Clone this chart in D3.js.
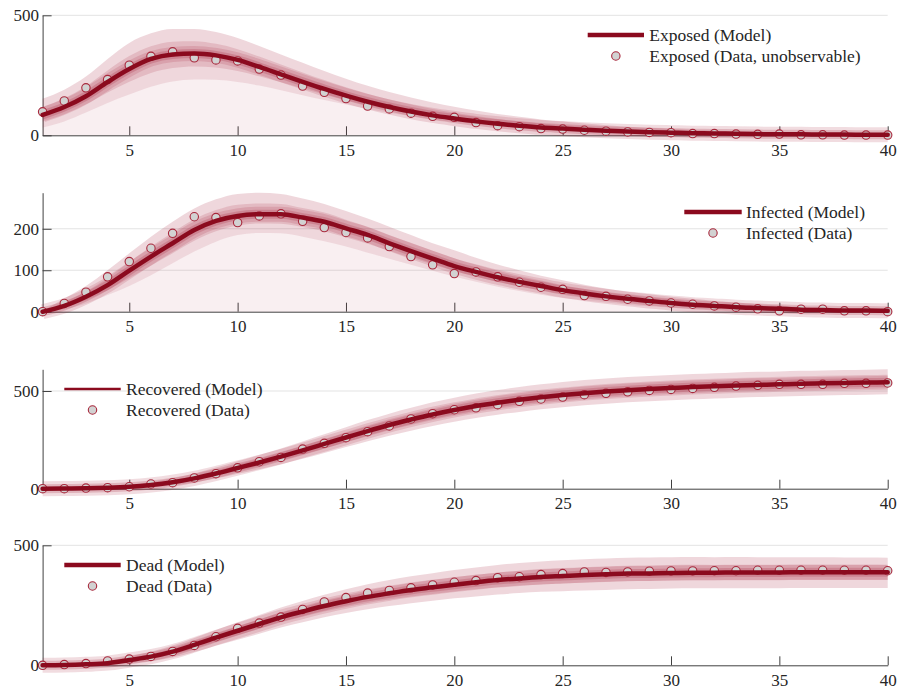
<!DOCTYPE html>
<html><head><meta charset="utf-8">
<script src="https://cdn.jsdelivr.net/npm/d3@7"></script>
<style>
body{margin:0;background:#fff}
svg{display:block}
text{font-family:"Liberation Serif","Times New Roman",serif}
</style>
</head><body>
<svg id="c" width="906" height="690"></svg>
<script>
// ---------- data ----------
const days = [1,2,3,4,5,6,7,8,9,10,11,12,13,14,15,16,17,18,19,20,21,22,23,24,25,26,27,28,29,30,31,32,33,34,35,36,37,38,39,40];
const xTicks = [5,10,15,20,25,30,35,40];

const yTicksExposed = [0,500];
const yTicksInfected = [0,100,200];
const yTicksRecovered = [0,500];
const yTicksDead = [0,500];

const legendExposed = ["Exposed (Model)","Exposed (Data, unobservable)"];
const legendInfected = ["Infected (Model)","Infected (Data)"];
const legendRecovered = ["Recovered (Model)","Recovered (Data)"];
const legendDead = ["Dead (Model)","Dead (Data)"];

const exposedData  = [98,143,198,232,292,329,348,323,314,310,276,251,205,179,153,122,110,92,79,75,53,40,36,28,26,21,17,14,12,11,7,7,5,4,5,2,2,1,1,1];
const exposedModel = [85,118,163,222,276,318,337,341,333,314,285,254,223,193,165,140,118,99,83,70,58,48,40,33,28,23,19,16,13,11,9,8,6,5,4,4,3,3,2,2];
const exposedOuterHi = [152,190,245,318,385,425,443,443,430,405,372,337,302,268,236,206,180,157,137,119,103,89,77,66,57,49,42,36,31,26,22,19,16,14,12,10,9,8,7,6];
const exposedOuterLo = [32,58,95,135,170,202,224,233,231,222,207,188,167,147,128,110,94,80,67,56,47,39,32,27,22,18,15,12,10,8,6,5,4,3,3,2,2,1,1,1];
const exposedInnerHi = [118,154,204,270,330,371,390,392,381,359,328,295,262,230,200,173,149,128,110,94,80,68,58,49,42,36,30,26,22,18,15,13,11,9,8,7,6,5,4,4];
const exposedInnerLo = [58,88,129,178,223,260,280,287,282,268,246,221,195,170,146,125,106,89,75,63,52,43,36,30,25,20,17,14,11,9,7,6,5,4,3,3,2,2,1,1];

const infectedData  = [0,20,47,84,121,153,189,229,227,215,231,236,218,203,191,178,157,133,113,92,96,84,71,59,54,39,37,30,26,21,18,14,11,7,2,6,6,2,2,0];
const infectedModel = [0,14,36,64,99,133,165,197,219,231,235,235,227,217,201,185,165,146,128,110,96,83,72,62,52,44,37,31,26,21,17,14,11,9,7,5,4,3,3,2];
const infectedOuterHi = [2,32,62,100,141,181,217,249,271,284,287,284,273,260,243,225,205,185,165,148,130,114,100,87,76,65,56,48,42,36,31,26,22,18,15,12,10,8,6,5];
const infectedOuterLo = [0,6,20,40,62,88,117,145,169,185,190,189,181,170,157,142,128,113,99,85,72,60,50,41,33,27,22,17,13,10,8,6,5,4,3,2,2,1,1,1];
const infectedInnerHi = [1,23,49,82,120,157,191,223,245,258,261,260,250,239,222,205,185,166,147,129,113,99,86,75,64,55,47,40,34,29,24,20,17,14,11,9,7,6,5,4];
const infectedInnerLo = [0,10,28,52,81,111,141,171,194,208,213,212,204,194,179,164,147,130,114,98,84,72,61,52,43,36,30,24,20,16,13,10,8,7,5,4,3,2,2,2];

const recoveredData  = [0,0,3,5,10,24,31,55,77,107,138,160,203,232,261,292,321,357,384,404,414,430,447,459,469,481,488,496,503,508,513,519,525,529,534,534,534,539,539,541];
const recoveredModel = [0,1,2,5,10,19,33,53,78,106,134,164,196,229,262,295,326,354,380,403,423,440,455,468,479,489,497,504,510,515,520,524,528,531,534,537,539,541,543,545];
const recoveredOuterHi = [1,3,6,12,21,34,53,78,108,140,172,206,242,279,315,351,384,414,442,466,487,505,521,534,546,556,564,571,577,582,587,591,595,598,600,603,605,607,609,611];
const recoveredOuterLo = [0,0,0,1,3,8,17,32,52,76,99,125,153,183,213,243,271,297,321,343,362,379,393,406,417,427,435,442,448,453,458,462,466,469,472,475,477,479,481,483];
const recoveredInnerHi = [1,2,4,9,16,27,43,66,93,123,153,185,219,254,289,323,355,384,411,435,455,473,488,501,513,523,531,538,544,549,554,558,562,565,567,570,572,574,576,578];
const recoveredInnerLo = [0,1,1,3,7,14,25,43,65,91,117,145,175,206,238,269,299,326,351,373,393,410,424,437,448,458,466,473,479,484,489,493,497,500,503,506,508,510,512,514];

const deadData  = [0,3,7,18,26,37,58,83,119,154,176,201,233,264,282,301,312,323,335,346,353,365,369,378,382,389,387,389,392,393,393,394,394,396,396,396,396,396,396,394];
const deadModel = [0,1,4,9,22,36,57,85,115,144,172,200,224,247,267,285,300,314,325,336,346,355,362,368,372,376,379,382,383,385,386,386,387,387,387,388,388,388,388,388];
const deadOuterHi = [0,2,7,17,37,56,82,114,147,179,210,241,268,294,317,338,355,371,384,397,408,418,426,433,438,442,445,448,449,450,451,450,451,450,450,450,450,449,449,448];
const deadOuterLo = [0,0,1,2,9,17,32,55,81,106,131,157,179,200,218,234,247,259,269,279,287,295,301,306,309,312,314,317,318,320,321,321,321,321,321,322,322,322,322,322];
const deadInnerHi = [0,2,6,13,30,46,70,100,131,162,191,221,246,271,292,312,328,343,355,367,377,387,394,401,405,409,412,415,416,418,419,418,419,419,419,419,419,419,419,418];
const deadInnerLo = [0,0,3,6,16,27,45,70,98,125,152,179,202,224,243,260,274,287,297,308,317,325,332,337,341,344,347,350,351,353,354,354,354,354,354,355,355,355,355,355];

// ---------- layout / options ----------
const panels = [
  {top:15.3, bottom:135.3, yMax:500, yTicks:yTicksExposed, data:exposedData, model:exposedModel,
   oHi:exposedOuterHi, oLo:exposedOuterLo, iHi:exposedInnerHi, iLo:exposedInnerLo, floor:true,
   legend:{x1:587.7, x2:644, y:35, lw:4.3, tx:649.3, labels:legendExposed}},
  {top:192.7, bottom:311.7, yMax:d3.max(infectedOuterHi), yTicks:yTicksInfected, data:infectedData, model:infectedModel,
   oHi:infectedOuterHi, oLo:infectedOuterLo, iHi:infectedInnerHi, iLo:infectedInnerLo, floor:true,
   legend:{x1:684.3, x2:741.7, y:212, lw:4.3, tx:746, labels:legendInfected}},
  {top:369.3, bottom:488.7, yMax:d3.max(recoveredOuterHi), yTicks:yTicksRecovered, data:recoveredData, model:recoveredModel,
   oHi:recoveredOuterHi, oLo:recoveredOuterLo, iHi:recoveredInnerHi, iLo:recoveredInnerLo, floor:false,
   legend:{x1:64.3, x2:120.7, y:389, lw:2.6, tx:126, labels:legendRecovered}},
  {top:545.3, bottom:665.3, yMax:500, yTicks:yTicksDead, data:deadData, model:deadModel,
   oHi:deadOuterHi, oLo:deadOuterLo, iHi:deadInnerHi, iLo:deadInnerLo, floor:false,
   legend:{x1:64.3, x2:120.7, y:565, lw:4.5, tx:126, labels:legendDead}}
];

const LINE = '#8b0a1e', BAND = 'rgb(160,20,45)', MK_FILL = '#d2d2d2', MK_STROKE = '#a8283c';
const AX = '#404040', TXT = '#262626';

const svg = d3.select('#c');
const x = d3.scaleLinear().domain([1,40]).range([42.6,887.7]);

panels.forEach(p => {
  const y = d3.scaleLinear().domain([0,p.yMax]).range([p.bottom,p.top]);
  const g = svg.append('g');

  // gridlines
  g.selectAll('line.grid').data(p.yTicks.filter(v => v > 0)).join('line')
    .attr('class','grid')
    .attr('x1',x(1)).attr('x2',x(40))
    .attr('y1',d=>y(d)).attr('y2',d=>y(d))
    .attr('stroke','#e3e3e3').attr('stroke-width',1);

  // axes
  const xa = g.append('g').attr('transform',`translate(0,${p.bottom})`)
    .call(d3.axisBottom(x).tickValues(xTicks).tickSizeInner(-9).tickSizeOuter(0).tickPadding(8.5));
  const ya = g.append('g').attr('transform',`translate(${x(1)},0)`)
    .call(d3.axisLeft(y).tickValues(p.yTicks).tickSizeInner(-9).tickSizeOuter(0).tickPadding(3.5));
  [xa,ya].forEach(a => {
    a.attr('font-family',null).attr('font-size',17);
    a.select('.domain').attr('stroke',AX).attr('stroke-width',1);
    a.selectAll('.tick line').attr('stroke',AX).attr('stroke-width',1);
    a.selectAll('.tick text').attr('fill',TXT);
  });

  const area = (lo,hi) => d3.area()
    .x((d,i)=>x(days[i])).y0((d,i)=>y(lo[i])).y1((d,i)=>y(hi[i]))
    .curve(d3.curveMonotoneX);
  const line = d3.line().x((d,i)=>x(days[i])).y(d=>y(d)).curve(d3.curveMonotoneX);

  if (p.floor) {
    g.append('path').datum(days)
      .attr('d', d3.area().x(d=>x(d)).y0(y(0)).y1((d,i)=>y(p.oLo[i])).curve(d3.curveMonotoneX))
      .attr('fill',BAND).attr('fill-opacity',0.065);
  }
  g.append('path').datum(days).attr('d',area(p.oLo,p.oHi)).attr('fill',BAND).attr('fill-opacity',0.17);
  g.append('path').datum(days).attr('d',area(p.iLo,p.iHi)).attr('fill',BAND).attr('fill-opacity',0.15);
  // glow near the median
  g.append('path').datum(p.model).attr('d',line).attr('fill','none')
    .attr('stroke',BAND).attr('stroke-opacity',0.15).attr('stroke-width',15).attr('stroke-linejoin','round');
  g.append('path').datum(p.model).attr('d',line).attr('fill','none')
    .attr('stroke',BAND).attr('stroke-opacity',0.2).attr('stroke-width',9).attr('stroke-linejoin','round');

  // data markers
  g.selectAll('circle.pt').data(p.data).join('circle')
    .attr('class','pt')
    .attr('cx',(d,i)=>x(days[i])).attr('cy',d=>y(d)).attr('r',4.2)
    .attr('fill',MK_FILL).attr('stroke',MK_STROKE).attr('stroke-width',1.1);

  // model line
  g.append('path').datum(p.model).attr('d',line).attr('fill','none')
    .attr('stroke',LINE).attr('stroke-width',4.5).attr('stroke-linejoin','round').attr('stroke-linecap','round');

  // legend
  const L = p.legend;
  const lg = svg.append('g');
  lg.append('line').attr('x1',L.x1).attr('x2',L.x2).attr('y1',L.y).attr('y2',L.y)
    .attr('stroke',LINE).attr('stroke-width',L.lw);
  lg.append('circle').attr('cx',(L.x1+L.x2)/2).attr('cy',L.y+21).attr('r',4.2)
    .attr('fill',MK_FILL).attr('stroke',MK_STROKE).attr('stroke-width',1.1);
  lg.selectAll('text').data(L.labels).join('text')
    .attr('x',L.tx).attr('y',(d,i)=>L.y + i*21 + 5.6)
    .attr('font-size',17.5).attr('fill',TXT).text(d=>d);
});
</script>
</body></html>
